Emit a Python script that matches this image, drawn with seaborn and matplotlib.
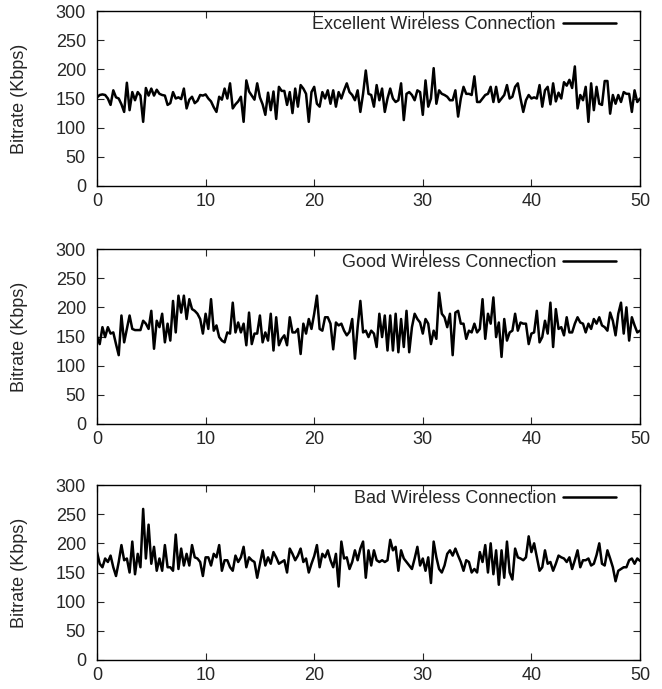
import numpy as np
import pandas as pd
import matplotlib
matplotlib.use("Agg")
import matplotlib.pyplot as plt
import seaborn as sns

# ------------------------
# Data (bitrate samples every 0.25 s)
# ------------------------
time_s = np.arange(201) * 0.25

excellent = [
    152, 156, 157, 156, 150, 139, 164, 152, 150, 140,
    127, 177, 130, 161, 147, 161, 155, 110, 168, 155,
    167, 155, 165, 158, 156, 155, 139, 142, 161, 150,
    152, 149, 167, 133, 148, 153, 142, 146, 156, 155,
    157, 150, 145, 135, 127, 153, 148, 167, 150, 176,
    133, 140, 145, 153, 110, 181, 162, 155, 148, 176,
    152, 140, 122, 160, 130, 162, 115, 170, 163, 163,
    139, 161, 125, 167, 136, 173, 167, 158, 110, 161,
    170, 141, 136, 161, 150, 164, 141, 164, 136, 161,
    150, 164, 176, 161, 156, 147, 164, 127, 158, 198,
    158, 156, 136, 173, 147, 167, 127, 150, 167, 150,
    144, 147, 176, 113, 158, 161, 156, 147, 164, 161,
    122, 181, 136, 150, 202, 141, 164, 158, 156, 153,
    147, 147, 164, 119, 150, 170, 158, 158, 156, 188,
    144, 144, 150, 156, 158, 170, 144, 170, 144, 150,
    156, 173, 150, 153, 170, 176, 150, 127, 147, 156,
    150, 152, 150, 173, 136, 164, 170, 140, 176, 145,
    160, 150, 178, 172, 182, 168, 205, 133, 156, 147,
    170, 110, 176, 130, 170, 141, 139, 180, 180, 124,
    156, 141, 156, 144, 161, 158, 158, 127, 164, 144, 150,
]

good = [
    150, 137, 166, 149, 166, 155, 157, 137, 118, 186,
    140, 163, 186, 163, 161, 161, 161, 177, 172, 163,
    194, 129, 177, 166, 189, 140, 172, 143, 211, 157,
    220, 191, 220, 180, 214, 197, 194, 189, 180, 155,
    189, 163, 214, 160, 169, 149, 143, 140, 157, 155,
    208, 157, 174, 157, 172, 135, 191, 137, 155, 155,
    186, 140, 157, 143, 189, 126, 183, 135, 146, 152,
    135, 183, 157, 157, 163, 120, 172, 155, 180, 163,
    189, 220, 163, 160, 183, 183, 172, 128, 174, 169,
    172, 160, 152, 158, 180, 112, 166, 211, 157, 160,
    149, 160, 155, 132, 189, 149, 186, 126, 186, 126,
    189, 123, 180, 132, 194, 123, 166, 189, 180, 174,
    155, 180, 172, 137, 160, 146, 225, 189, 183, 166,
    189, 118, 191, 194, 172, 172, 146, 160, 157, 172,
    157, 163, 214, 146, 189, 172, 217, 149, 174, 115,
    180, 143, 157, 160, 189, 160, 174, 172, 172, 137,
    155, 157, 194, 140, 149, 177, 155, 208, 132, 197,
    163, 166, 152, 183, 157, 157, 172, 183, 174, 172,
    157, 172, 163, 180, 172, 183, 169, 166, 160, 191,
    177, 152, 189, 208, 155, 200, 143, 183, 169, 157, 160,
]

bad = [
    185, 165, 159, 174, 168, 179, 159, 144, 168, 197,
    171, 174, 150, 203, 147, 182, 159, 259, 174, 232,
    165, 194, 153, 174, 153, 197, 159, 159, 153, 215,
    156, 191, 162, 182, 162, 197, 176, 174, 168, 144,
    176, 176, 162, 182, 176, 197, 153, 171, 171, 159,
    153, 179, 168, 176, 194, 159, 176, 171, 168, 141,
    165, 188, 162, 176, 165, 185, 176, 165, 168, 171,
    150, 191, 182, 171, 179, 191, 168, 174, 150, 165,
    178, 197, 159, 182, 176, 188, 171, 159, 182, 126,
    203, 174, 176, 156, 168, 188, 171, 191, 203, 141,
    188, 162, 188, 171, 168, 171, 168, 171, 206, 188,
    194, 153, 188, 174, 168, 162, 156, 174, 194, 162,
    174, 153, 176, 132, 203, 176, 156, 150, 162, 182,
    188, 179, 191, 179, 168, 153, 171, 168, 150, 156,
    150, 185, 168, 197, 150, 200, 147, 188, 129, 188,
    141, 203, 150, 138, 191, 176, 174, 171, 176, 212,
    185, 200, 176, 153, 159, 188, 165, 168, 153, 165,
    179, 176, 174, 168, 176, 156, 171, 188, 159, 171,
    171, 174, 162, 165, 180, 200, 165, 162, 188, 174,
    159, 135, 153, 156, 159, 159, 171, 174, 165, 174, 170,
]

labels = ["Excellent Wireless Connection",
          "Good Wireless Connection",
          "Bad Wireless Connection"]
series = [excellent, good, bad]

# ------------------------
# Plot
# ------------------------
sns.set_style("ticks")
plt.rcParams['font.family'] = ['Liberation Sans', 'DejaVu Sans']

fig = plt.figure(figsize=(6.62, 6.89), dpi=100)
left, width, height = 97 / 662, 543 / 662, 175 / 689
bottoms = [1 - 186 / 689, 1 - 424 / 689, 1 - 660 / 689]

for vals, lab, b in zip(series, labels, bottoms):
    ax = fig.add_axes([left, b, width, height])
    df = pd.DataFrame({'time': time_s, 'bitrate': vals})
    sns.lineplot(data=df, x='time', y='bitrate', ax=ax, color='black',
                 linewidth=1.8, label=lab)
    ax.set_xlim(0, 50)
    ax.set_ylim(0, 300)
    ax.set_xticks(range(0, 51, 10))
    ax.set_yticks(range(0, 301, 50))
    ax.set_xlabel("")
    ax.set_ylabel("Bitrate (Kbps)", fontsize=13, labelpad=20)
    ax.tick_params(direction='in', top=True, right=True, length=5,
                   width=0.8, labelsize=13)
    ax.tick_params(axis='y', pad=8)
    ax.tick_params(axis='x', pad=5)
    for sp in ax.spines.values():
        sp.set_linewidth(1.0)
        sp.set_color('black')
    ax.legend(loc='upper right', bbox_to_anchor=(0.955, 0.972),
              frameon=False, markerfirst=False, fontsize=13,
              handlelength=2.9, borderpad=0, borderaxespad=0,
              handletextpad=0.4)

fig.savefig("out.png", dpi=100)
